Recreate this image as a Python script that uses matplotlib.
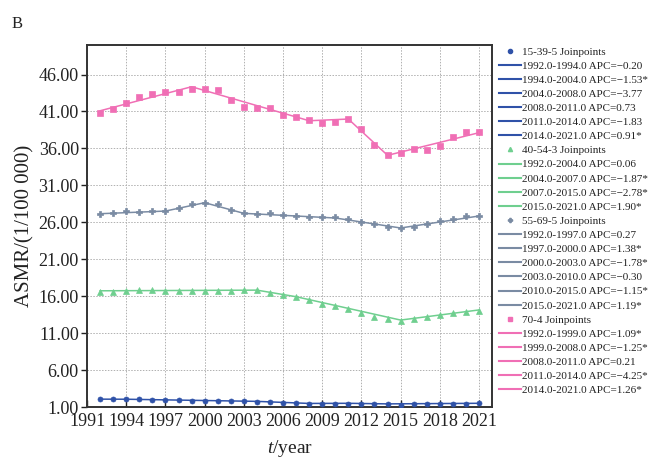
import matplotlib
matplotlib.use("Agg")
import matplotlib.pyplot as plt
from matplotlib.lines import Line2D

plt.rcParams['font.family'] = ['Liberation Serif', 'DejaVu Serif']
plt.rcParams['mathtext.fontset'] = 'custom'
plt.rcParams['mathtext.rm'] = 'Liberation Serif'
plt.rcParams['mathtext.it'] = 'Liberation Serif:italic'

years = list(range(1992, 2022))

obs_15_39 = [2.08, 2.08, 2.08, 2.04, 1.99, 1.95, 1.90, 1.86, 1.81, 1.77,
             1.77, 1.77, 1.72, 1.63, 1.54, 1.50, 1.41, 1.41, 1.41, 1.41,
             1.41, 1.36, 1.36, 1.32, 1.36, 1.41, 1.45, 1.45, 1.45, 1.50]
obs_40_54 = [16.60, 16.60, 16.69, 16.83, 16.87, 16.74, 16.78, 16.78, 16.78, 16.78,
             16.78, 16.87, 16.83, 16.51, 16.15, 15.84, 15.43, 14.98, 14.67, 14.26,
             13.77, 13.23, 12.96, 12.69, 12.87, 13.18, 13.45, 13.72, 13.90, 13.99]
obs_55_69 = [27.17, 27.31, 27.49, 27.44, 27.49, 27.58, 27.98, 28.48, 28.66, 28.43,
             27.71, 27.22, 27.17, 27.26, 26.99, 26.86, 26.77, 26.68, 26.77, 26.41,
             26.00, 25.73, 25.42, 25.24, 25.42, 25.78, 26.14, 26.50, 26.86, 26.86]
obs_70 = [40.75, 41.38, 42.19, 43.00, 43.41, 43.59, 43.63, 44.08, 43.99, 43.95,
          42.59, 41.60, 41.51, 41.51, 40.52, 40.20, 39.89, 39.39, 39.53, 39.93,
          38.58, 36.46, 35.15, 35.33, 35.87, 35.78, 36.37, 37.54, 38.22, 38.22]

jp_years_15_39 = [1992, 1994, 2004, 2008, 2011, 2014, 2021]
fit_15_39 = [2.08, 2.07, 1.78, 1.50, 1.52, 1.44, 1.52]
jp_years_40_54 = [1992, 2004, 2007, 2015, 2021]
fit_40_54 = [16.74, 16.83, 15.94, 12.78, 14.15]
jp_years_55_69 = [1992, 1997, 2000, 2003, 2010, 2015, 2021]
fit_55_69 = [27.17, 27.53, 28.66, 27.22, 26.59, 25.24, 26.86]
jp_years_70 = [1992, 1999, 2008, 2011, 2014, 2021]
fit_70 = [41.10, 44.35, 39.75, 39.98, 35.07, 38.13]

headers = ["15-39-5 Joinpoints", "40-54-3 Joinpoints", "55-69-5 Joinpoints", "70-4 Joinpoints"]
seg_15_39 = ["1992.0-1994.0 APC=\u22120.20", "1994.0-2004.0 APC=\u22121.53*",
             "2004.0-2008.0 APC=\u22123.77", "2008.0-2011.0 APC=0.73",
             "2011.0-2014.0 APC=\u22121.83", "2014.0-2021.0 APC=0.91*"]
seg_40_54 = ["1992.0-2004.0 APC=0.06", "2004.0-2007.0 APC=\u22121.87*",
             "2007.0-2015.0 APC=\u22122.78*", "2015.0-2021.0 APC=1.90*"]
seg_55_69 = ["1992.0-1997.0 APC=0.27", "1997.0-2000.0 APC=1.38*",
             "2000.0-2003.0 APC=\u22121.78*", "2003.0-2010.0 APC=\u22120.30",
             "2010.0-2015.0 APC=\u22121.15*", "2015.0-2021.0 APC=1.19*"]
seg_70 = ["1992.0-1999.0 APC=1.09*", "1999.0-2008.0 APC=\u22121.25*",
          "2008.0-2011.0 APC=0.21", "2011.0-2014.0 APC=\u22124.25*",
          "2014.0-2021.0 APC=1.26*"]

xticks = list(range(1991, 2022, 3))
yticks = [1, 6, 11, 16, 21, 26, 31, 36, 41, 46]

c_blue = '#2f52a8'
c_green = '#6fcf8f'
c_gray = '#7a8ba3'
c_pink = '#f06fb5'

fig = plt.figure(figsize=(6.5, 4.59), dpi=100)
ax = fig.add_axes([0.134, 0.113, 0.623, 0.789])

series = [
    (obs_15_39, jp_years_15_39, fit_15_39, c_blue, 'o', 3.6),
    (obs_40_54, jp_years_40_54, fit_40_54, c_green, '^', 4.2),
    (obs_55_69, jp_years_55_69, fit_55_69, c_gray, 'P', 4.0),
    (obs_70, jp_years_70, fit_70, c_pink, 's', 3.8),
]
for obs, jy, fit, col, mk, ms in series:
    ax.plot(jy, fit, color=col, lw=1.1, zorder=3)
    ax.plot(years, obs, linestyle='none', marker=mk, ms=ms, color=col,
            markeredgewidth=0.5, zorder=4)

ax.set_xlim(1991, 2022)
ax.set_ylim(1, 50)
ax.set_xticks(xticks)
ax.set_yticks(yticks)
ax.set_yticklabels([f"{v:.2f}" for v in yticks])
ax.grid(True, linestyle=(0, (1.5, 1.5)), color='#b0b0b0', lw=0.7)
ax.set_axisbelow(True)
for s in ax.spines.values():
    s.set_color('#333333')
    s.set_linewidth(1.4)
ax.tick_params(axis='y', direction='out', length=4, width=1, pad=2,
               labelsize=13, colors='#222222')
ax.tick_params(axis='x', direction='in', length=5, width=1, pad=4,
               labelsize=13, colors='#222222')
ax.set_ylabel("ASMR/(1/100 000)", fontsize=15, labelpad=3, color='#222222')
ax.set_xlabel(r"$\mathit{t}$/year", fontsize=14, labelpad=6, color='#222222')

fig.text(0.018, 0.939, "B", fontsize=12, color='#222222')

handles = []
labels = []
groups = [
    (headers[0], seg_15_39, c_blue, 'o'),
    (headers[1], seg_40_54, c_green, '^'),
    (headers[2], seg_55_69, c_gray, 'P'),
    (headers[3], seg_70, c_pink, 's'),
]
for hdr, segs, col, mk in groups:
    handles.append(Line2D([], [], linestyle='none', marker=mk, ms=3, color=col))
    labels.append(hdr)
    for sg in segs:
        handles.append(Line2D([], [], color=col, lw=1.5))
        labels.append(sg)

leg = fig.legend(handles, labels, loc='upper left', bbox_to_anchor=(0.764, 0.903),
                 frameon=False, fontsize=8.0, labelspacing=0.39,
                 handlelength=2.0, handletextpad=0.1, borderaxespad=0,
                 borderpad=0.2)
for t in leg.get_texts():
    t.set_color('#222222')

fig.savefig("out.png", dpi=100)
